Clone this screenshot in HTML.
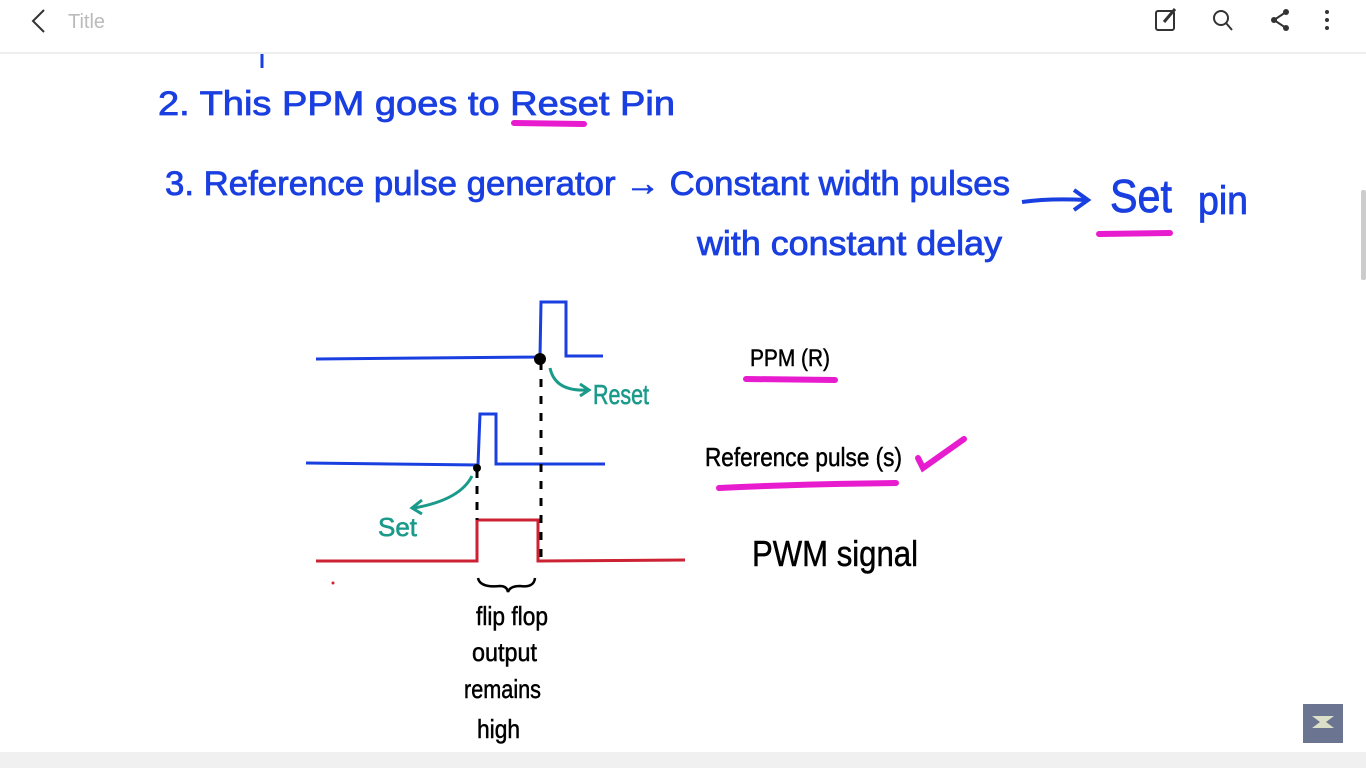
<!DOCTYPE html>
<html><head><meta charset="utf-8"><style>
body{margin:0;width:1366px;height:768px;overflow:hidden;background:#fff;font-family:"Liberation Sans",sans-serif}
svg{position:absolute;left:0;top:0}
</style></head><body>
<svg width="1366" height="768">
<rect x="0" y="0" width="1366" height="52" fill="#fff"/>
<line x1="0" y1="53" x2="1366" y2="53" stroke="#eee" stroke-width="2"/>
<path d="M44 10 L33 21 L44 32" fill="none" stroke="#333" stroke-width="2"/>
<text x="68" y="28" font-size="20" fill="#bbb">Title</text>
<g><rect x="1156" y="11" width="18" height="19" rx="2" fill="none" stroke="#333" stroke-width="2"/><path d="M1164 22 L1175 9" stroke="#333" stroke-width="3"/></g>
<g><circle cx="1221" cy="18" r="7" fill="none" stroke="#333" stroke-width="2"/><line x1="1226" y1="23" x2="1232" y2="30" stroke="#333" stroke-width="2"/></g>
<g fill="#333"><circle cx="1286" cy="12" r="3"/><circle cx="1274" cy="20" r="3"/><circle cx="1286" cy="28" r="3"/><path d="M1286 12 L1274 20 L1286 28" stroke="#333" stroke-width="2" fill="none"/></g>
<g fill="#333"><circle cx="1327" cy="12" r="2"/><circle cx="1327" cy="20" r="2"/><circle cx="1327" cy="28" r="2"/></g>
<rect x="1361" y="190" width="5" height="90" rx="2" fill="#ccc"/>
<rect x="0" y="752" width="1366" height="16" fill="#f0f0f0"/>
<line x1="262" y1="54" x2="262" y2="68" stroke="#1a3fe0" stroke-width="3"/>

<g fill="#1a3fe0" stroke="#1a3fe0" stroke-width="0.8" font-size="34">
<text x="158" y="115" textLength="517" lengthAdjust="spacingAndGlyphs">2.  This  PPM  goes  to  Reset  Pin</text>
<text x="165" y="195" textLength="845" lengthAdjust="spacingAndGlyphs">3.  Reference  pulse  generator → Constant  width  pulses</text>
<text x="697" y="255" textLength="305" lengthAdjust="spacingAndGlyphs">with  constant  delay</text>
<text x="1110" y="212" font-size="46" textLength="62" lengthAdjust="spacingAndGlyphs">Set</text>
<text x="1198" y="214" font-size="40" textLength="50" lengthAdjust="spacingAndGlyphs">pin</text>
</g>
<path d="M1022 202 Q1050 198 1086 200 M1074 190 L1088 200 L1074 210" fill="none" stroke="#1a3fe0" stroke-width="4"/>
<g stroke="#e81ccf" stroke-width="6" stroke-linecap="round" fill="none">
<line x1="514" y1="123" x2="584" y2="124"/>
<line x1="1099" y1="234" x2="1170" y2="233"/>
<line x1="746" y1="379" x2="835" y2="380"/>
<path d="M719 488 Q800 484 896 483"/>
<path d="M918 458 L923 468 L964 439"/>
</g>

<g fill="none" stroke-width="3">
<path d="M316 359 L540 357 L541 302 L566 302 L566 356 L603 356" stroke="#1a3fe0"/>
<path d="M306 463 L478 465 L480 414 L496 414 L496 464 L605 464" stroke="#1a3fe0"/>
<path d="M316 561 L477 561 L477 520 L538 520 L538 561 L685 560" stroke="#cc2233"/>
<line x1="541" y1="362" x2="541" y2="560" stroke="#000" stroke-dasharray="8 9"/>
<line x1="477" y1="470" x2="477" y2="520" stroke="#000" stroke-dasharray="8 8"/>
<path d="M550 368 Q555 392 588 390 M580 384 L589 390 L580 396" stroke="#1a9a8a"/>
<path d="M472 476 Q460 500 414 508 M422 500 L412 508 L422 514" stroke="#1a9a8a"/>
<path d="M478 578 Q480 588 500 586 Q507 586 508 592 Q510 586 520 586 Q534 588 535 578" stroke="#000" stroke-width="2.5"/>
</g>
<circle cx="540" cy="359" r="6" fill="#000"/>
<circle cx="477" cy="468" r="4" fill="#000"/>
<circle cx="333" cy="583" r="1.5" fill="#cc2233"/>
<text x="593" y="404" font-size="28" fill="#1a9a8a" stroke="#1a9a8a" stroke-width="0.6" textLength="56" lengthAdjust="spacingAndGlyphs">Reset</text>
<text x="378" y="536" font-size="26" fill="#1a9a8a" stroke="#1a9a8a" stroke-width="0.6">Set</text>
<g fill="#000" stroke="#000" stroke-width="0.5">
<text x="750" y="366" font-size="24" textLength="80" lengthAdjust="spacingAndGlyphs">PPM (R)</text>
<text x="705" y="466" font-size="26" textLength="197" lengthAdjust="spacingAndGlyphs">Reference pulse (s)</text>
<text x="752" y="566" font-size="36" textLength="166" lengthAdjust="spacingAndGlyphs">PWM  signal</text>
<g font-size="26">
<text x="476" y="625" textLength="72" lengthAdjust="spacingAndGlyphs">flip flop</text>
<text x="472" y="661" textLength="65" lengthAdjust="spacingAndGlyphs">output</text>
<text x="464" y="698" textLength="77" lengthAdjust="spacingAndGlyphs">remains</text>
<text x="477" y="738" textLength="43" lengthAdjust="spacingAndGlyphs">high</text>
</g></g>
<g><rect x="1303" y="704" width="40" height="39" fill="#6b7591"/><path d="M1312 716 L1334 716 L1326 722 L1334 728 L1312 728 L1320 722 Z" fill="#dde0c8"/></g>
</svg>
</body></html>
